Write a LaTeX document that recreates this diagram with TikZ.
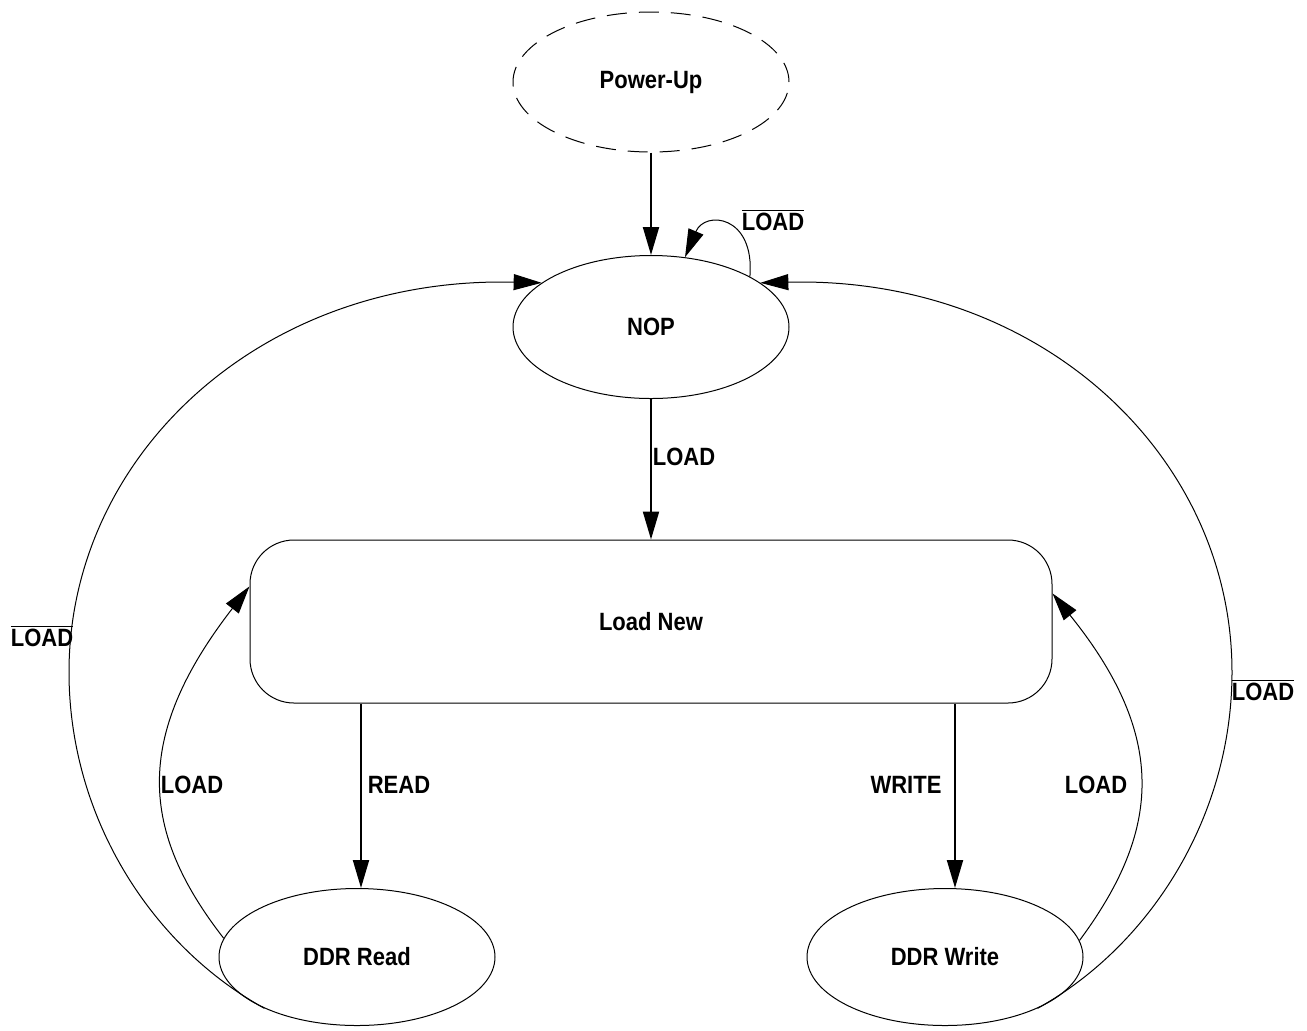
\documentclass[tikz,border=0pt]{standalone}
\usepackage{fontspec}
\setmainfont{Liberation Sans}[FakeStretch=0.88]
\usetikzlibrary{shapes.geometric,arrows.meta}
\begin{document}
\begin{tikzpicture}[x=0.5pt,y=-0.5pt,font=\bfseries\fontsize{12.5}{15}\selectfont]
	\tikzstyle{tri} = [-{Triangle[length=14pt,width=8pt]}]
	\tikzstyle{bold} = [tri, line width=1pt]
	\tikzstyle{thin} = [tri, line width=0.5pt]
	\tikzstyle{state} = [shape=ellipse, draw=black, line width=0.5pt, inner sep=0, minimum width=138pt, minimum height=70pt]
	\tikzstyle{lbl} = [inner sep=0]
	\useasboundingbox (0,0) rectangle (1307,1030);
	% states
	\node [state, dash pattern=on 10pt off 6pt] (pwr) at (651,82) {Power-Up};
	\node [state, minimum height=71.5pt] (nop) at (651,327) {NOP};
	\node [draw=black, line width=0.5pt, rounded corners=22pt, minimum width=401pt, minimum height=81.5pt] (ldn) at (651,621.5) {Load New};
	\node [state, minimum height=68.5pt] (rd) at (357,957) {DDR Read};
	\node [state, minimum height=68.5pt] (wr) at (945,957) {DDR Write};
	\coordinate (lc) at (69,672);
	\coordinate (rc) at (1232,672);
	\coordinate (rdtop) at ([xshift=2pt]rd.north);
	\coordinate (wrtop) at ([xshift=5pt]wr.north);
	% straight transitions
	\draw [bold] (pwr) -- (nop);
	\draw [bold] (nop) -- (ldn);
	\draw [bold] (rdtop |- ldn.south) -- (rdtop);
	\draw [bold] (wrtop |- ldn.south) -- (wrtop);
	% back to Load New
	\draw [thin] (rd.172.8) .. controls (141,832) and (132,738) .. (ldn.175.5);
	\draw [thin] (wr.7.2) .. controls (1160,832) and (1169,738) .. (ldn.4.5);
	% back to NOP
	\draw [thin] (rd.209) .. controls (150,945) and (69,816) .. (lc) .. controls (69,456) and (260,276) .. (nop.158);
	\draw [thin] (wr.-29) .. controls (1151,945) and (1232,816) .. (rc) .. controls (1232,456) and (1041,276) .. (nop.22);
	\draw [thin] (nop.27) .. controls (755,215) and (705,210) .. (nop.64);
	% labels
	\node [lbl] (t1) at (773,220) {$\overline{\mbox{LOAD}}$};
	\node [lbl] (t2) at (684,457) {LOAD};
	\node [lbl] (t3) at (192,785) {LOAD};
	\node [lbl] (t4) at (399,785) {READ};
	\node [lbl] (t5) at (906,785) {WRITE};
	\node [lbl] (t6) at (1096,785) {LOAD};
	\node [lbl] (t7) at (42,636) {$\overline{\mbox{LOAD}}$};
	\node [lbl] (t8) at (1263,690) {$\overline{\mbox{LOAD}}$};
\end{tikzpicture}
\end{document}
